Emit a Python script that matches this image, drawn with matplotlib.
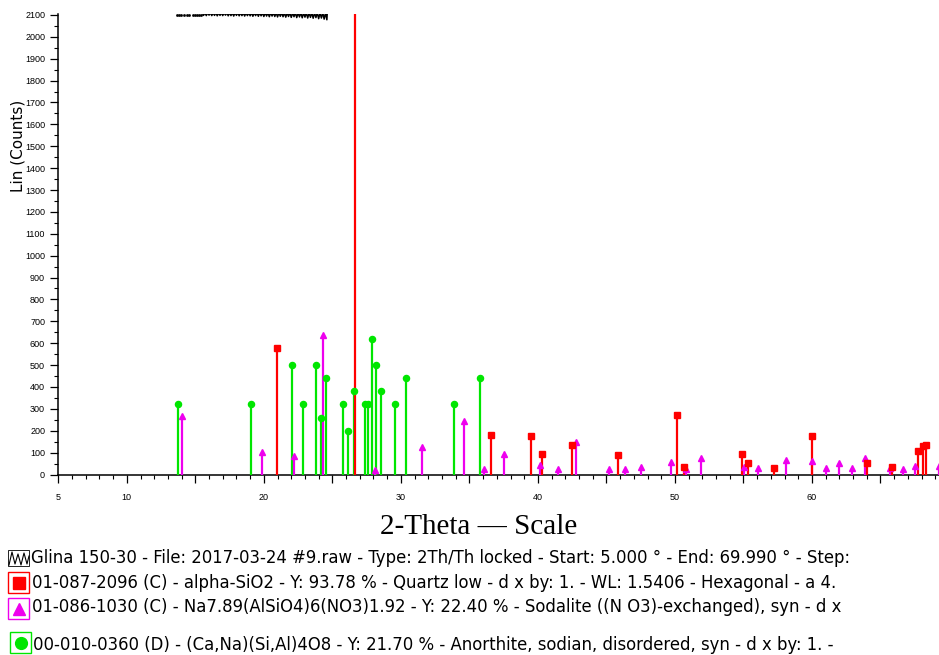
import numpy as np
import matplotlib
matplotlib.use("Agg")
import matplotlib.pyplot as plt
from matplotlib.patches import Rectangle
from matplotlib.lines import Line2D

# measured scan, only the part that dips below the 2100 top of the view
scan_dots_2theta = [13.65, 13.8, 13.95, 14.2, 14.4, 14.55, 14.8, 15.0, 15.1, 15.3, 15.45]
scan_dots_counts = [2101, 2102, 2101, 2100, 2102, 2101, 2100, 2101, 2100, 2099, 2100]

scan_2theta = np.round(np.arange(155, 248) / 10, 1)
scan_counts = [2110, 2098, 2110, 2097, 2110, 2099, 2110, 2097, 2110, 2098,
               2110, 2096, 2110, 2098, 2110, 2097, 2110, 2099, 2110, 2096,
               2110, 2097, 2110, 2095, 2110, 2098, 2110, 2096, 2110, 2097,
               2110, 2095, 2110, 2097, 2110, 2096, 2110, 2094, 2110, 2097,
               2110, 2094, 2110, 2096, 2110, 2093, 2110, 2095, 2110, 2092,
               2110, 2095, 2110, 2093, 2110, 2091, 2110, 2094, 2110, 2092,
               2110, 2090, 2110, 2093, 2110, 2089, 2110, 2092, 2110, 2088,
               2110, 2091, 2110, 2087, 2110, 2090, 2110, 2086, 2110, 2089,
               2110, 2085, 2110, 2088, 2110, 2083, 2110, 2086, 2110, 2081,
               2110, 2078, 2200]

# 01-087-2096 alpha-SiO2 (quartz)
quartz_2theta = [20.95, 26.65, 36.57, 39.49, 40.31, 42.46, 45.82, 50.15, 50.66, 54.91,
                 55.35, 57.23, 59.98, 64.04, 65.82, 67.74, 68.10, 68.30]
quartz_counts = [580, 2900, 179, 177, 92, 135, 88, 272, 33, 92,
                 54, 30, 175, 51, 33, 107, 130, 135]

# 01-086-1030 sodalite
sodalite_2theta = [14.01, 19.83, 22.21, 24.33, 28.12, 31.55, 34.62, 36.08, 37.50, 40.17,
                   41.47, 42.75, 45.16, 46.35, 47.50, 49.73, 50.83, 51.90, 55.05, 56.08,
                   58.08, 60.02, 61.02, 61.97, 62.92, 63.85, 65.72, 66.64, 67.54, 69.27]
sodalite_counts = [266, 104, 83, 637, 20, 127, 246, 25, 92, 43,
                   25, 150, 24, 27, 35, 59, 25, 74, 36, 28,
                   66, 62, 28, 51, 28, 74, 30, 25, 37, 38]

# 00-010-0360 anorthite, sodian
anorthite_2theta = [13.72, 19.03, 22.09, 22.85, 23.77, 24.16, 24.55, 25.79, 26.15, 26.57,
                    27.35, 27.63, 27.90, 28.17, 28.56, 29.58, 30.41, 33.85, 35.79]
anorthite_counts = [320, 320, 500, 320, 500, 260, 440, 320, 200, 380,
                    320, 320, 620, 500, 380, 320, 440, 320, 440]

x_ticks = list(range(5, 70, 5))
x_tick_labels = ['5', '10', '', '20', '', '30', '', '40', '', '50', '', '60', '']
y_ticks = list(range(0, 2101, 100))

legend_texts = [
    "Glina 150-30 - File: 2017-03-24 #9.raw - Type: 2Th/Th locked - Start: 5.000 \u00b0 - End: 69.990 \u00b0 - Step:",
    "01-087-2096 (C) - alpha-SiO2 - Y: 93.78 % - Quartz low - d x by: 1. - WL: 1.5406 - Hexagonal - a 4.",
    "01-086-1030 (C) - Na7.89(AlSiO4)6(NO3)1.92 - Y: 22.40 % - Sodalite ((N O3)-exchanged), syn - d x",
    "00-010-0360 (D) - (Ca,Na)(Si,Al)4O8 - Y: 21.70 % - Anorthite, sodian, disordered, syn - d x by: 1. -",
]

RED = '#FF0000'
MAG = '#EE00EE'
GRN = '#00E600'

plt.rcParams['font.family'] = ['Liberation Sans', 'DejaVu Sans']

W, H = 939, 655
fig = plt.figure(figsize=(W / 100, H / 100), dpi=100)
ax = fig.add_axes([58.3 / W, 1 - 474.5 / H, 1 - 58.3 / W, (474.5 - 14.3) / H])

ax.plot(scan_2theta, scan_counts, color='black', lw=1.1, zorder=2)
ax.plot(scan_dots_2theta, scan_dots_counts, ls='none', marker='s', ms=0.9, color='black', zorder=2)

for xs, ys, col, mk, ms in [(anorthite_2theta, anorthite_counts, GRN, 'o', 4.4),
                            (sodalite_2theta, sodalite_counts, MAG, '^', 4.6),
                            (quartz_2theta, quartz_counts, RED, 's', 4.2)]:
    ax.vlines(xs, 0, ys, colors=col, lw=1.6, zorder=3)
    ax.plot(xs, ys, ls='none', marker=mk, ms=ms, color=col, mec=col, zorder=4)

ax.set_xlim(5, 69.27)
ax.set_ylim(0, 2103)

for s in ['top', 'right']:
    ax.spines[s].set_visible(False)
for s in ['left', 'bottom']:
    ax.spines[s].set_linewidth(1.1)

ax.set_xticks(x_ticks)
ax.set_xticklabels(x_tick_labels)
ax.set_xticks(range(5, 70), minor=True)
ax.set_yticks(y_ticks)
ax.set_yticks(range(50, 2101, 100), minor=True)
ax.tick_params(axis='both', which='major', length=6, width=0.9, labelsize=6.5, direction='out')
ax.tick_params(axis='both', which='minor', length=3.2, width=0.8, direction='out')
ax.tick_params(axis='x', which='major', pad=7)
ax.tick_params(axis='y', which='major', pad=3.5)

fig.text(18.5 / W, 1 - 146 / H, 'Lin (Counts)', rotation=90, ha='center', va='center',
         fontsize=11, family=['DejaVu Sans'])
fig.text(479 / W, 1 - 527 / H, '2-Theta \u2014 Scale', ha='center', va='center',
         fontsize=21, family=['Liberation Serif', 'DejaVu Serif'])

# legend rows below the plot
def px(x, y):
    return x / W, 1 - y / H

rows_y = [558, 583, 607, 645]
text_x = [31, 32, 32, 33]
for ty, tx, txt in zip(rows_y, text_x, legend_texts):
    fig.text(tx / W, 1 - ty / H, txt, ha='left', va='center', fontsize=11.9,
             family=['DejaVu Sans'])

# scan icon
x0, y0 = px(8, 566)
fig.add_artist(Rectangle((x0, y0), 21 / W, 16 / H, fill=False, ec='black', lw=0.6,
                         transform=fig.transFigure))
zx = [9, 12, 15, 18, 21, 24, 27, 29]
zy = [565, 552, 564, 554, 565, 553, 564, 556]
fig.add_artist(Line2D([v / W for v in zx], [1 - v / H for v in zy], color='black', lw=0.8,
                      transform=fig.transFigure))

icons = [(8, 593, RED, 's', 8.5), (8, 619, MAG, '^', 9), (10, 653, GRN, 'o', 8.5)]
for bx, by, col, mk, ms in icons:
    x0, y0 = px(bx, by)
    fig.add_artist(Rectangle((x0, y0), 21 / W, 21 / H, fill=False, ec=col, lw=1.0,
                             transform=fig.transFigure))
    cx, cy = px(bx + 10.5, by - 10.5)
    fig.add_artist(Line2D([cx], [cy], marker=mk, ms=ms, color=col, ls='none',
                          transform=fig.transFigure))

fig.savefig('out.png', dpi=100)
